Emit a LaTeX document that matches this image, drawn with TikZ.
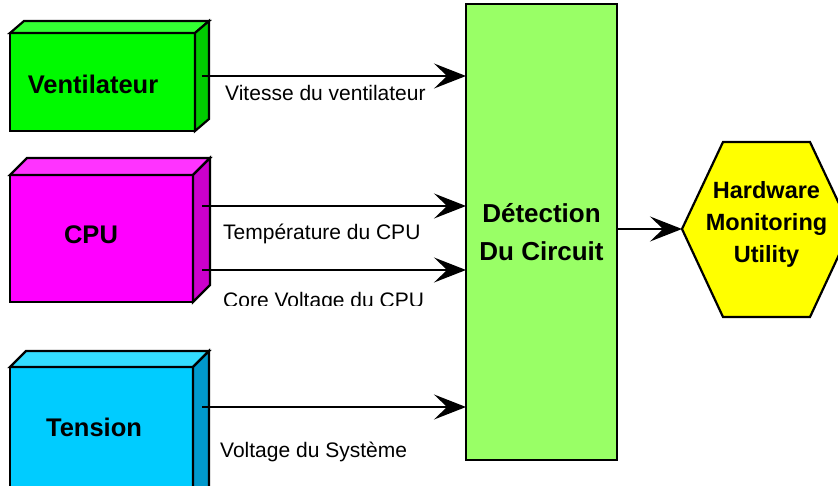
\documentclass[tikz,border=0pt]{standalone}
\usepackage{fontspec}
\setmainfont{Liberation Sans}
\usetikzlibrary{arrows.meta,positioning,calc}
\definecolor{ventfront}{RGB}{0,250,0}
\definecolor{venttop}{RGB}{51,255,51}
\definecolor{ventside}{RGB}{0,204,0}
\definecolor{cpufront}{RGB}{255,0,255}
\definecolor{cputop}{RGB}{255,51,255}
\definecolor{cpuside}{RGB}{204,0,204}
\definecolor{tensfront}{RGB}{0,204,255}
\definecolor{tenstop}{RGB}{51,221,255}
\definecolor{tensside}{RGB}{0,153,204}
\definecolor{detgreen}{RGB}{153,255,102}
\definecolor{hwyellow}{RGB}{255,255,0}

\tikzset{
  face/.style={draw=black,line width=2.2pt,line join=miter},
  frontbox/.style={face,rectangle,inner sep=0pt,outer sep=0pt},
  boxtext/.style={font=\fontsize{25.5}{30}\selectfont\bfseries},
  flow/.style={line width=2pt,-{Stealth[length=32pt,width=25pt,inset=13pt]}},
  sig/.style={anchor=base west,inner sep=0pt,font=\fontsize{21}{25}\selectfont},
}

\begin{document}
\begin{tikzpicture}[x=1pt,y=-1pt]
    \useasboundingbox (0,0) rectangle (838,486);
    \clip (0,0) rectangle (838,486);
    % sources
    \node[frontbox,fill=ventfront,minimum width=185pt,minimum height=98pt,
      label={[boxtext,xshift=-9.5pt,yshift=-2pt]center:Ventilateur}] (vent) at (102.5,82) {};
    \draw[face,fill=venttop] (vent.north west) -- ++(14,-12)
      -- ($(vent.north east)+(14,-12)$) -- (vent.north east) -- cycle;
    \draw[face,fill=ventside] (vent.north east) -- ++(14,-12)
      -- ($(vent.south east)+(14,-12)$) -- (vent.south east) -- cycle;
    \node[frontbox,fill=cpufront,minimum width=183pt,minimum height=127pt,
      label={[boxtext,xshift=-10.5pt,yshift=3.5pt]center:CPU}] (cpu) at (101.5,238.5) {};
    \draw[face,fill=cputop] (cpu.north west) -- ++(17,-17)
      -- ($(cpu.north east)+(17,-17)$) -- (cpu.north east) -- cycle;
    \draw[face,fill=cpuside] (cpu.north east) -- ++(17,-17)
      -- ($(cpu.south east)+(17,-17)$) -- (cpu.south east) -- cycle;
    \node[frontbox,fill=tensfront,minimum width=183pt,minimum height=140pt,
      label={[boxtext,xshift=-7.5pt,yshift=10pt]center:Tension}] (tens) at (101.5,437) {};
    \draw[face,fill=tenstop] (tens.north west) -- ++(16,-16)
      -- ($(tens.north east)+(16,-16)$) -- (tens.north east) -- cycle;
    \draw[face,fill=tensside] (tens.north east) -- ++(16,-16)
      -- ($(tens.south east)+(16,-16)$) -- (tens.south east) -- cycle;
    % detection
    \node[frontbox,fill=detgreen,minimum width=151pt,minimum height=456pt,
      align=center,font=\fontsize{26}{38}\selectfont\bfseries] (det) at (541.5,232)
      {D\'etection\\Du Circuit};
    % utility
    \coordinate (hwin) at (682,229);
    \draw[face,fill=hwyellow] (hwin) -- ++(41,-87) -- ++(87,0) -- ++(41,87)
      -- ++(-41,88) -- ++(-87,0) -- cycle;
    \node[align=center,inner sep=0pt,font=\fontsize{23.5}{32}\selectfont\bfseries]
      (hw) at (766.5,224) {Hardware\\Monitoring\\Utility};
    % signals
    \coordinate (v1) at (202,76);
    \coordinate (c1) at (202,206);
    \coordinate (c2) at (202,270);
    \coordinate (t1) at (202,407);
    \draw[flow] (v1) -- (v1 -| det.west);
    \draw[flow] (c1) -- (c1 -| det.west);
    \draw[flow] (c2) -- (c2 -| det.west);
    \draw[flow] (t1) -- (t1 -| det.west);
    \draw[flow] (det.east |- hwin) -- (hwin);
    \node[sig] at (225,101) {Vitesse du ventilateur};
    \node[sig] at (223,240) {Temp\'erature du CPU};
    \begin{scope}
      \clip (200,280) rectangle (440,306);
      \node[sig] at (223,308) {Core Voltage du CPU};
    \end{scope}
    \node[sig] at (220,457) {Voltage du Syst\`eme};
\end{tikzpicture}
\end{document}
